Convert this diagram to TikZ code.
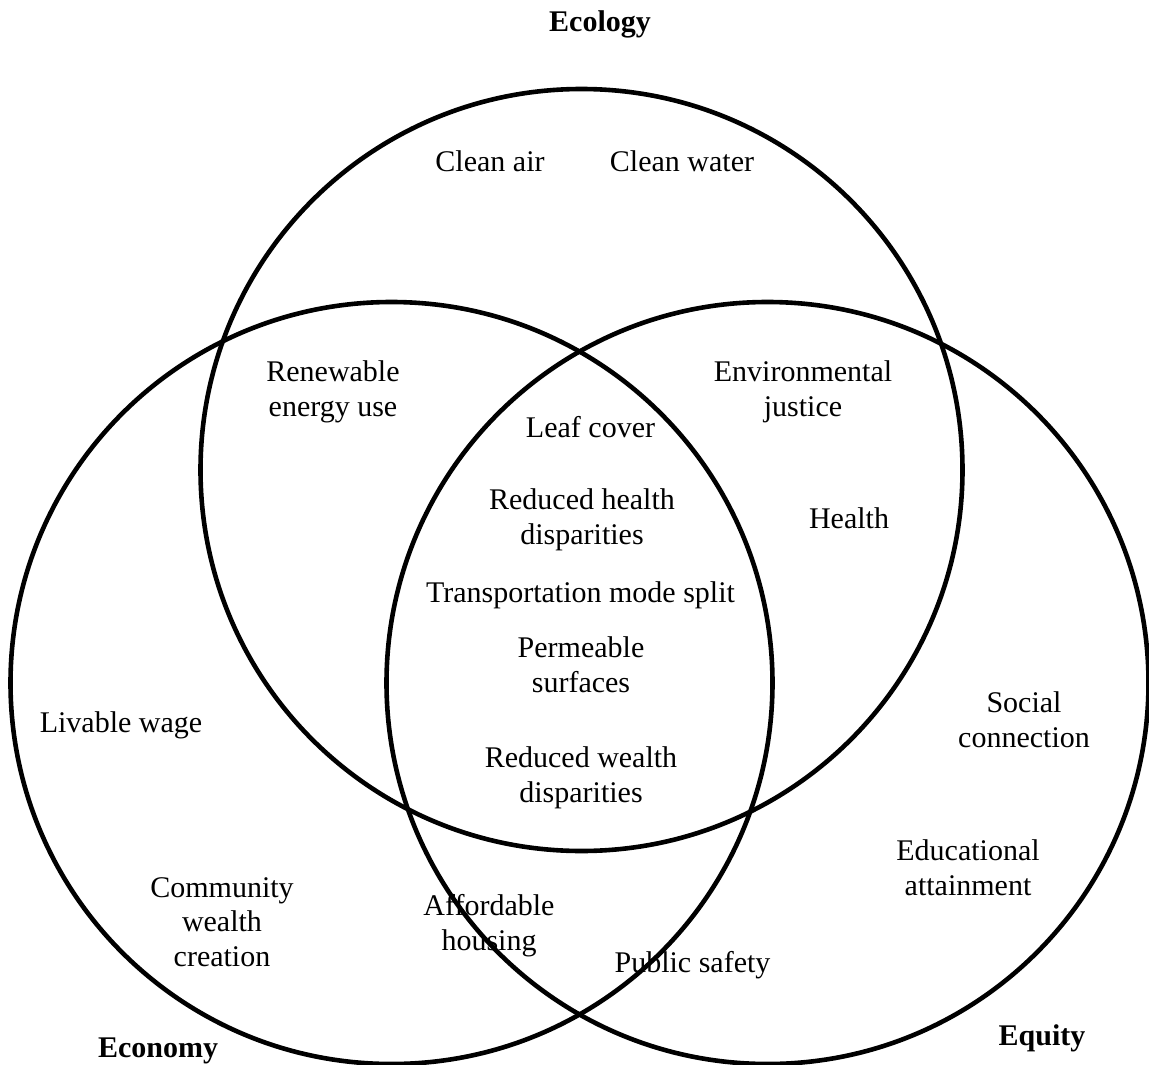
\documentclass[tikz,border=0pt]{standalone}
\usepackage{fontspec}
\setmainfont{Liberation Serif}
\begin{document}
\begin{tikzpicture}[x=1pt,y=-1pt,
  ring/.style={line width=4.6pt, draw=black},
  item/.style={anchor=base, align=center, inner sep=0pt, font=\fontsize{30}{34.5}\selectfont},
  title/.style={anchor=base, inner sep=0pt, font=\fontsize{30}{34}\selectfont\bfseries}]
\useasboundingbox (0,0) rectangle (1149,1065);
\fill[white] (0,0) rectangle (1149,1065);
\coordinate (ceco) at (581.5,470);
\coordinate (cecon) at (391.5,683);
\coordinate (cequ) at (767.5,683);
\draw[ring] (ceco) circle[radius=381];
\draw[ring] (cecon) circle[radius=381];
\draw[ring] (cequ) circle[radius=381];
% titles
\node[title] (tEco) at (600,32) {Ecology};
\node[title] (tEcon) at (158,1057) {Economy};
\node[title] (tEqu) at (1042,1045) {Equity};
% ecology only
\node[item] (air) at (490,171) {Clean air};
\node[item] (water) at (682,171) {Clean water};
% ecology & economy
\node[item] (renew) at (333,416) {Renewable\\energy use};
% ecology & equity
\node[item] (envj) at (803,416) {Environmental\\justice};
\node[item] (health) at (849,528) {Health};
% center
\node[item] (leaf) at (590.5,437) {Leaf cover};
\node[item] (rhd) at (582,544) {Reduced health\\disparities};
\node[item] (tms) at (580.5,602) {Transportation mode split};
\node[item] (perm) at (581,692) {Permeable\\surfaces};
\node[item] (rwd) at (581,802) {Reduced wealth\\disparities};
% economy only
\node[item] (wage) at (121,732) {Livable wage};
\node[item] (cwc) at (222,966) {Community\\wealth\\creation};
% economy & equity
\node[item] (house) at (489,950) {Affordable\\housing};
% equity only
\node[item] (safe) at (692.5,972) {Public safety};
\node[item] (social) at (1024,747) {Social\\connection};
\node[item] (edu) at (968,895) {Educational\\attainment};
\end{tikzpicture}
\end{document}
